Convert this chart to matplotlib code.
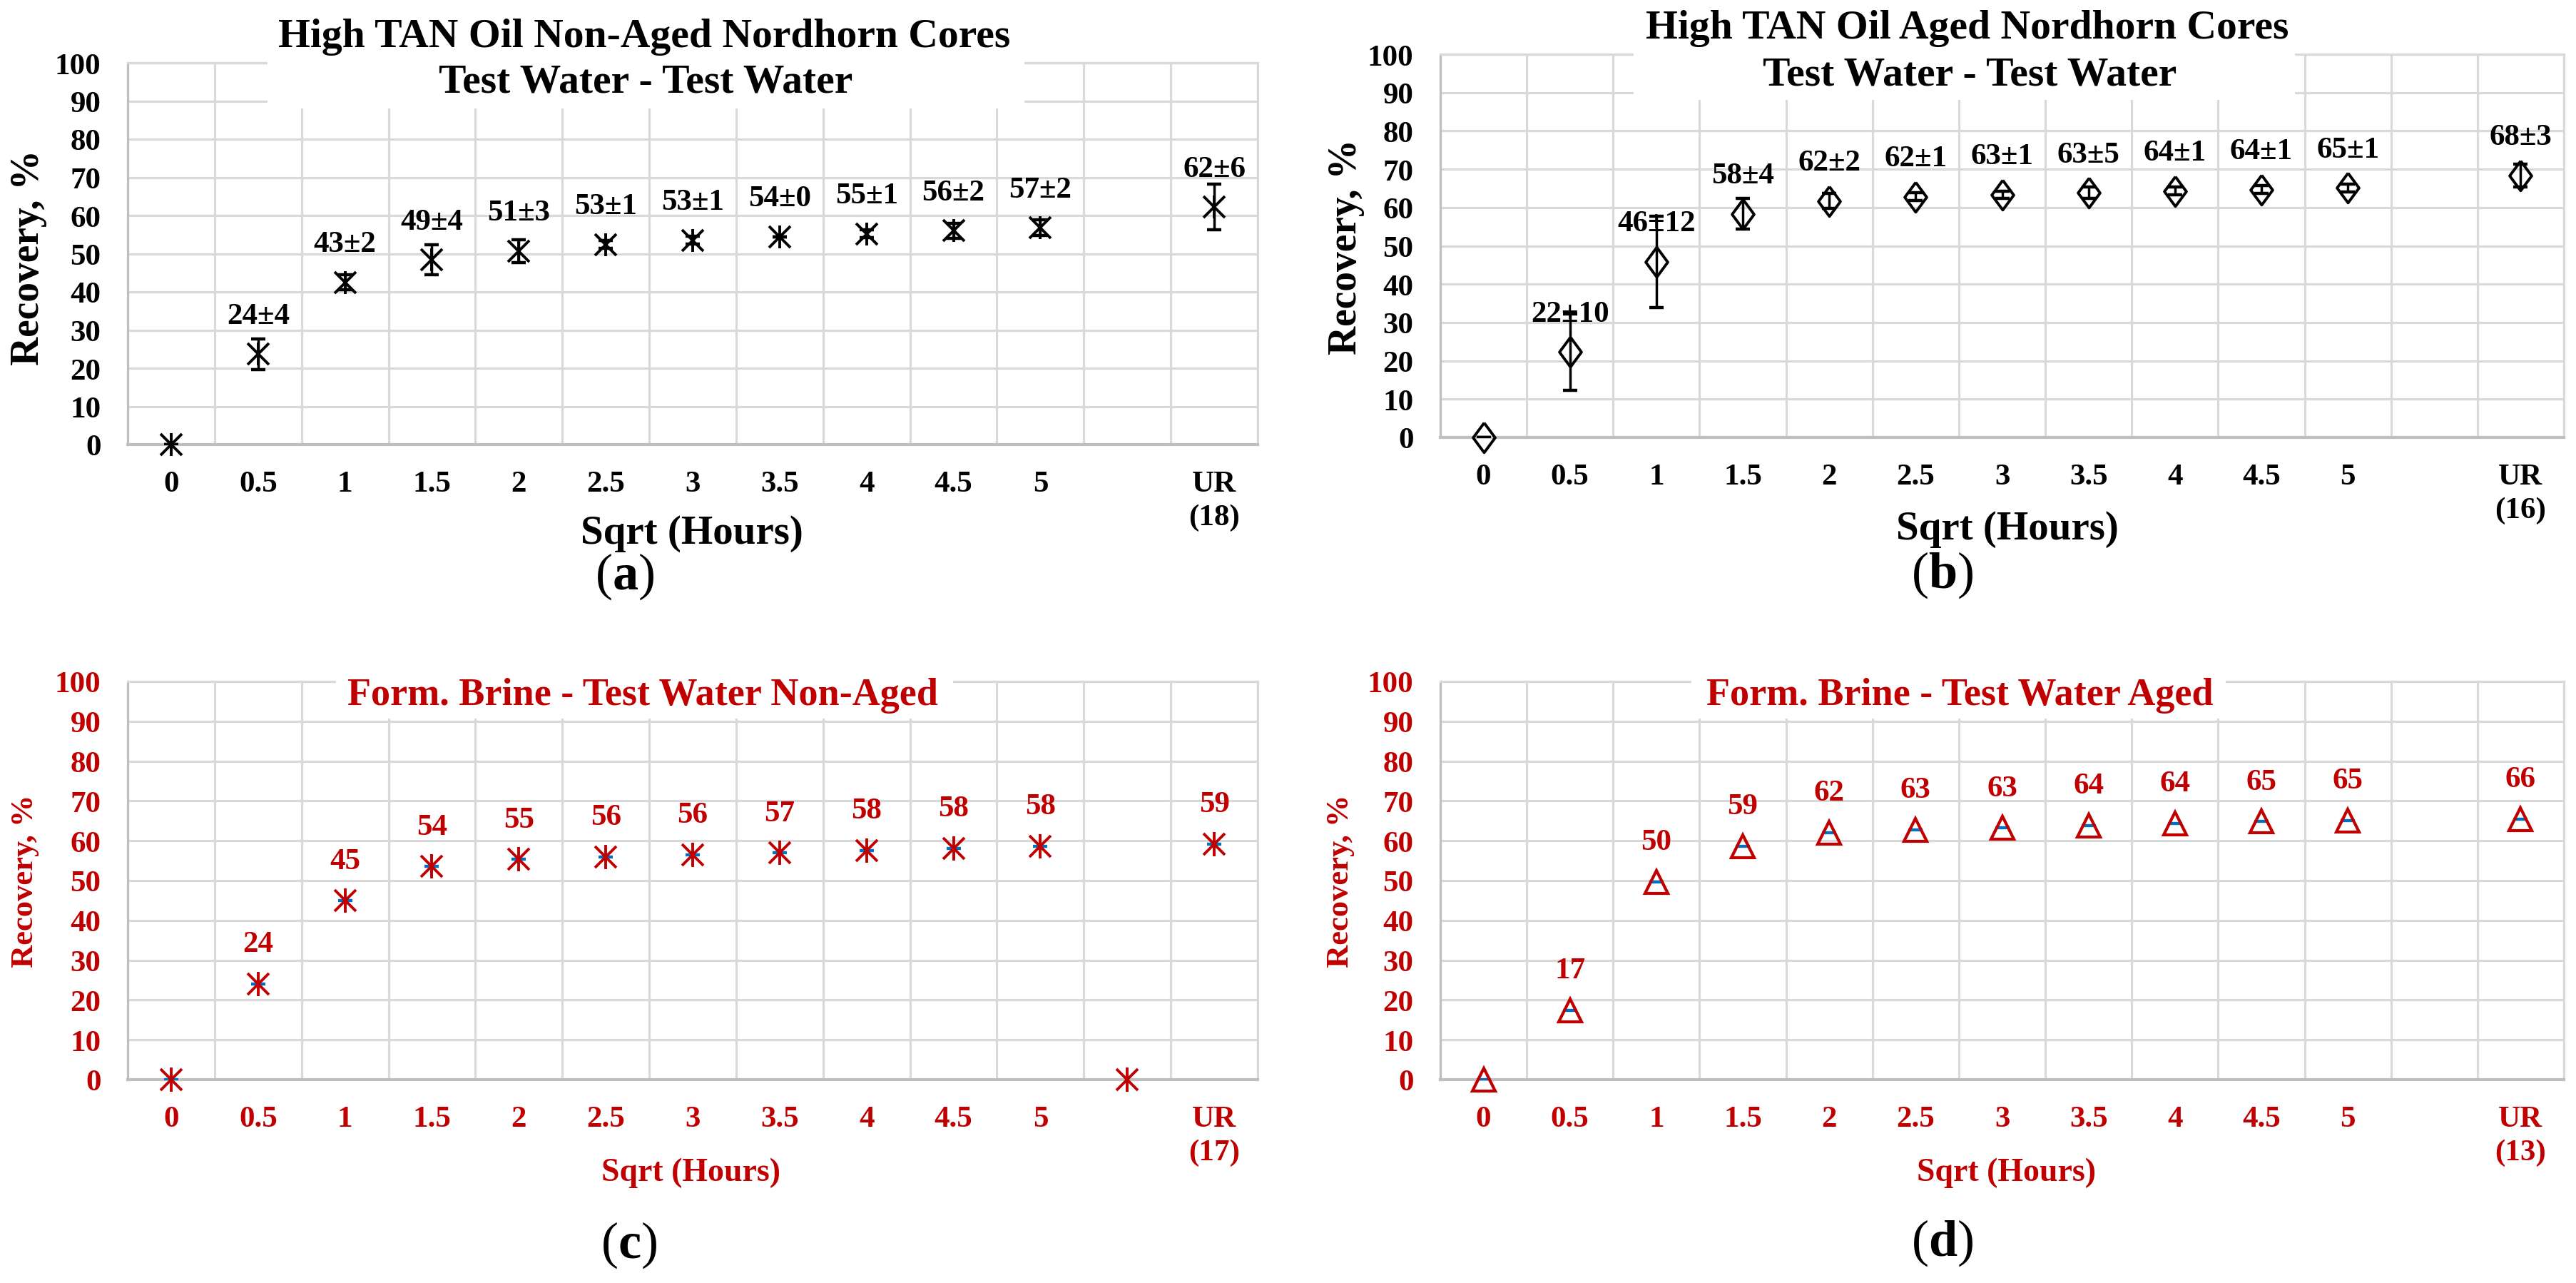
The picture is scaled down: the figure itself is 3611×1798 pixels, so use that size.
import numpy as np
import matplotlib.pyplot as plt
from matplotlib.patches import Rectangle

plt.rcParams['font.family'] = ['Liberation Serif', 'DejaVu Serif']
plt.rcParams['font.weight'] = 'bold'
plt.rcParams['mathtext.fontset'] = 'custom'
plt.rcParams['mathtext.rm'] = 'Liberation Serif'
plt.rcParams['mathtext.bf'] = 'Liberation Serif:bold'

RED = '#C00000'
BLUE = '#0070C0'
GRID = '#D9D9D9'
AXIS = '#BFBFBF'

nan = np.nan

# categories (slot 11 is an empty slot before UR)
steps = ['0', '0.5', '1', '1.5', '2', '2.5', '3', '3.5', '4', '4.5', '5', '']
cats_a = steps + ['UR\n(18)']
cats_b = steps + ['UR\n(16)']
cats_c = steps + ['UR\n(17)']
cats_d = steps + ['UR\n(13)']

# (a) High TAN oil, non-aged
rec_a = [0, 23.7, 42.5, 48.4, 50.7, 52.4, 53.5, 54.4, 55.2, 56.0, 56.8, nan, 62.2]
err_a = [0, 4, 2, 4, 3, 1, 1, 0, 1, 2, 2, nan, 6]
lab_a = ['', '24±4', '43±2', '49±4', '51±3', '53±1', '53±1', '54±0', '55±1',
         '56±2', '57±2', '', '62±6']

# (b) High TAN oil, aged
rec_b = [0, 22.3, 45.8, 58.3, 61.7, 62.8, 63.3, 63.8, 64.3, 64.7, 65.1, nan, 68.4]
err_b = [0, 10, 12, 4, 2, 1, 1, 1.5, 1, 1, 1, nan, 3]
lab_b = ['', '22±10', '46±12', '58±4', '62±2', '62±1', '63±1', '63±5', '64±1',
         '64±1', '65±1', '', '68±3']

# (c) Form. brine - test water, non-aged
rec_c = [0, 24.1, 44.9, 53.5, 55.3, 56.0, 56.5, 56.9, 57.5, 58.1, 58.6, 0, 59.1]
err_c = [0, 0, 0, 0, 0, 0, 0, 0, 0, 0, 0, nan, 0]
lab_c = ['', '24', '45', '54', '55', '56', '56', '57', '58', '58', '58', '', '59']

# (d) Form. brine - test water, aged
rec_d = [0, 17.4, 49.6, 58.6, 62.0, 62.7, 63.2, 63.8, 64.3, 64.8, 65.0, nan, 65.4]
err_d = [0, 0, 0, 0, 0, 0, 0, 0, 0, 0, 0, nan, 0]
lab_d = ['', '17', '50', '59', '62', '63', '63', '64', '64', '65', '65', '', '66']

W, H = 3612, 1799
fig = plt.figure(figsize=(W / 100, H / 100), dpi=100)


def px_axes(left, top, right, bottom):
    return fig.add_axes([left / W, 1 - bottom / H, (right - left) / W, (bottom - top) / H])


def ftext(x, y, s, **kw):
    kw.setdefault('ha', 'center')
    kw.setdefault('va', 'center')
    return fig.text(x / W, 1 - y / H, s, zorder=6, **kw)


def white_box(x0, y0, x1, y1):
    fig.add_artist(Rectangle((x0 / W, 1 - y1 / H), (x1 - x0) / W, (y1 - y0) / H,
                             transform=fig.transFigure, facecolor='white',
                             edgecolor='none', zorder=5))


def style(ax, cats, color, xpad):
    x = np.arange(len(cats))
    ax.set_xlim(-0.5, 12.5)
    ax.set_ylim(0, 100)
    ax.set_yticks(range(0, 101, 10))
    ax.set_xticks(x)
    ax.set_xticklabels(cats, linespacing=1.3)
    ax.set_xticks(np.arange(-0.5, 13, 1), minor=True)
    ax.grid(True, which='major', axis='y', color=GRID, lw=2.3)
    ax.grid(True, which='minor', axis='x', color=GRID, lw=2.3)
    ax.set_axisbelow(True)
    ax.tick_params(which='both', length=0)
    ax.tick_params(axis='y', labelsize=31, colors=color, pad=27)
    ax.tick_params(axis='x', labelsize=31, colors=color, pad=xpad)
    for s in ['top', 'right']:
        ax.spines[s].set_color(GRID)
        ax.spines[s].set_linewidth(2.3)
    ax.spines['left'].set_color(AXIS)
    ax.spines['left'].set_linewidth(2.3)
    ax.spines['bottom'].set_color(AXIS)
    ax.spines['bottom'].set_linewidth(3)


def data_labels(ax, rec, labels, color):
    for i, (v, t) in enumerate(zip(rec, labels)):
        if t:
            ax.text(i, v + 10, t, ha='center', va='center', fontsize=31,
                    color=color, zorder=5)


x = np.arange(13)
diamond = [(0, 1), (0.74, 0), (0, -1), (-0.74, 0), (0, 1)]

# ---- (a)
ax = px_axes(179, 89, 1763, 624)
style(ax, cats_a, 'k', 26)
ax.errorbar(x, rec_a, yerr=err_a, fmt='none', ecolor='k', elinewidth=2.5,
            capsize=7, capthick=3.2, zorder=3)
ax.plot(x, rec_a, 'x', ms=21, mew=2.8, color='k', clip_on=False, zorder=4)
ax.plot(x, rec_a, '|', ms=23, mew=2.8, color='k', clip_on=False, zorder=4)
data_labels(ax, rec_a, lab_a, 'k')

# ---- (b)
ax = px_axes(2019, 77, 3594, 614)
style(ax, cats_b, 'k', 26)
ax.errorbar(x, rec_b, yerr=err_b, fmt='none', ecolor='k', elinewidth=2.5,
            capsize=7, capthick=3.2, zorder=3)
ax.plot(x, rec_b, marker=diamond, ls='none', ms=30, mew=2.8, mec='k',
        mfc='none', clip_on=False, zorder=4)
data_labels(ax, rec_b, lab_b, 'k')

# ---- (c)
ax = px_axes(179, 956, 1763, 1514)
style(ax, cats_c, RED, 26)
ax.errorbar(x, rec_c, yerr=err_c, fmt='none', ecolor=BLUE, elinewidth=2,
            capsize=7, capthick=3, zorder=3)
ax.plot(x, rec_c, 'x', ms=22, mew=2.8, color=RED, clip_on=False, zorder=4)
ax.plot(x, rec_c, '|', ms=24, mew=2.8, color=RED, clip_on=False, zorder=4)
data_labels(ax, rec_c, lab_c, RED)

# ---- (d)
ax = px_axes(2019, 956, 3594, 1514)
style(ax, cats_d, RED, 26)
ax.errorbar(x, rec_d, yerr=err_d, fmt='none', ecolor=BLUE, elinewidth=2,
            capsize=7, capthick=3, zorder=3)
ax.plot(x, rec_d, '^', ms=23, mew=3, mec=RED, mfc='none', clip_on=False, zorder=4)
data_labels(ax, rec_d, lab_d, RED)

# titles on white boxes
white_box(375, 80, 1436, 153)
ftext(903, 52, 'High TAN Oil Non-Aged Nordhorn Cores', fontsize=41.5)
ftext(905, 115, 'Test Water - Test Water', fontsize=41.5)

white_box(2290, 70, 3217, 141)
ftext(2758, 40, 'High TAN Oil Aged Nordhorn Cores', fontsize=41.5)
ftext(2761, 106, 'Test Water - Test Water', fontsize=41.5)

white_box(471, 950, 1336, 1008)
ftext(901, 975, 'Form. Brine - Test Water Non-Aged', fontsize=39, color=RED)

white_box(2371, 950, 3120, 1008)
ftext(2747, 975, 'Form. Brine - Test Water Aged', fontsize=39, color=RED)

# axis titles
ftext(970, 748, 'Sqrt (Hours)', fontsize=41)
ftext(2814, 742, 'Sqrt (Hours)', fontsize=41)
ftext(969, 1644, 'Sqrt (Hours)', fontsize=33, color=RED)
ftext(2813, 1644, 'Sqrt (Hours)', fontsize=33, color=RED)

ftext(40, 361, 'Recovery, %', fontsize=40, rotation=90)
ftext(1887, 346, 'Recovery, %', fontsize=40, rotation=90)
ftext(35, 1235, 'Recovery, %', fontsize=32, rotation=90, color=RED)
ftext(1879, 1235, 'Recovery, %', fontsize=32, rotation=90, color=RED)

# panel letters
for px, py, letter in [(876, 808, 'a'), (2723, 806, 'b'), (882, 1745, 'c'), (2723, 1742, 'd')]:
    ftext(px, py, r'($\mathbf{%s}$)' % letter, fontsize=52, fontweight='normal')

fig.savefig('out.png', dpi=100)
